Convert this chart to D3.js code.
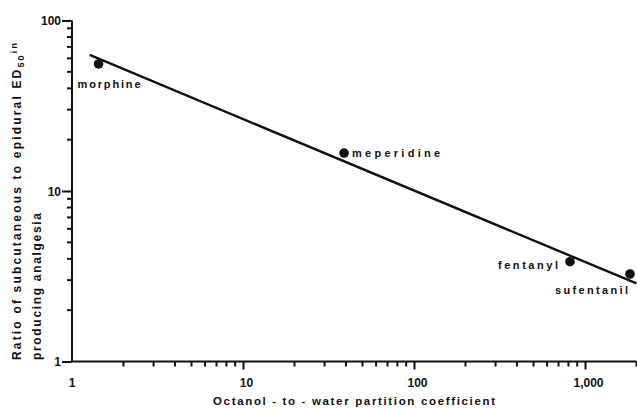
<!DOCTYPE html>
<html>
<head>
<meta charset="utf-8">
<script src="https://cdn.jsdelivr.net/npm/d3@7"></script>
<style>
  body { margin: 0; background: #fff; }
  svg { display: block; }
  text { font-family: "Liberation Sans", Arial, sans-serif; font-weight: bold; fill: #111; }
</style>
</head>
<body>
<svg id="chart" width="637" height="408"></svg>
<script>
// ---- data ----
const drugs = ["morphine", "meperidine", "fentanyl", "sufentanil"];
const partition = [1.43, 39, 817, 1833];          // octanol-to-water partition coefficient
const ratio = [55.6, 16.7, 3.85, 3.26];            // subcutaneous / epidural ED50 ratio
const fitX = [1.27, 2000];                          // regression line ends
const fitY = [62.8, 2.87];
const xMajor = [10, 100, 1000];
const xMajorLabels = ["10", "100", "1,000"];
const xMinor = [2,3,4,5,6,7,8,9,20,30,40,50,60,70,80,90,200,300,400,500,600,700,800,900,2000];
const yMajor = [1, 10, 100];
const yMajorLabels = ["1", "10", "100"];
const yMinor = [2,3,4,5,6,7,8,9,20,30,40,50,60,70,80,90];

const svg = d3.select("#chart");
const x = d3.scaleLog().domain([1, 2000]).range([72, 72 + 171 * Math.log10(2000)]);
const y = d3.scaleLog().domain([1, 100]).range([361.5, 20.5]);

const axisColor = "#111";

// minor ticks
svg.append("g").selectAll("line").data(xMinor).join("line")
  .attr("x1", d => x(d)).attr("x2", d => x(d))
  .attr("y1", y(1)).attr("y2", y(1) + 5)
  .attr("stroke", axisColor).attr("stroke-width", 2);
svg.append("g").selectAll("line").data(yMinor).join("line")
  .attr("y1", d => y(d)).attr("y2", d => y(d))
  .attr("x1", x(1)).attr("x2", x(1) - 5)
  .attr("stroke", axisColor).attr("stroke-width", 2);

// major axes
const gxMajor = svg.append("g").attr("transform", `translate(0,${y(1)})`)
  .call(d3.axisBottom(x).tickValues(xMajor).tickSize(8).tickFormat((d, i) => xMajorLabels[i]));
const gyMajor = svg.append("g").attr("transform", `translate(${x(1)},0)`)
  .call(d3.axisLeft(y).tickValues(yMajor).tickSize(10).tickFormat((d, i) => yMajorLabels[i]));

[gxMajor, gyMajor].forEach(g => {
  g.selectAll("path.domain").attr("stroke", axisColor).attr("stroke-width", 2);
  g.selectAll(".tick line").attr("stroke", axisColor).attr("stroke-width", 2);
  g.selectAll(".tick text").style("font-family", "'Liberation Sans', Arial, sans-serif")
    .style("font-weight", "bold").style("font-size", "12px").attr("fill", "#111");
});
gxMajor.select("path.domain").attr("d", `M${x(1)},0H${x(2000)}`);
gyMajor.select("path.domain").attr("d", `M0,${y(1)}V${y(100)}`);
gxMajor.selectAll(".tick text").attr("dy", null).attr("y", 0).attr("transform", "translate(3,25)");
gyMajor.selectAll(".tick text").attr("x", -11).attr("dy", "0.35em");

// x label "1" at origin
svg.append("text").attr("x", x(1)).attr("y", 387).attr("text-anchor", "middle")
  .style("font-size", "12px").text("1");

// regression line
const line = d3.line().x(d => x(d[0])).y(d => y(d[1]));
svg.append("path").datum(fitX.map((v, i) => [v, fitY[i]]))
  .attr("d", line).attr("fill", "none").attr("stroke", "#111").attr("stroke-width", 2.4);

// points
svg.selectAll("circle.pt").data(drugs).join("circle")
  .attr("class", "pt")
  .attr("cx", (d, i) => x(partition[i]))
  .attr("cy", (d, i) => y(ratio[i]))
  .attr("r", 4.8).attr("fill", "#111");

// point labels (positions relative to points)
const labelOff = [[-21, 24, 63], [8, 4, 88], [-72, 7, 60], [-75, 20, 73]];
svg.selectAll("text.lbl").data(drugs).join("text")
  .attr("class", "lbl")
  .attr("x", (d, i) => x(partition[i]) + labelOff[i][0])
  .attr("y", (d, i) => y(ratio[i]) + labelOff[i][1])
  .attr("textLength", (d, i) => labelOff[i][2])
  .attr("lengthAdjust", "spacing")
  .style("font-size", "11px")
  .text(d => d);

// x axis title
svg.append("text").attr("x", 213).attr("y", 405)
  .attr("textLength", 282).attr("lengthAdjust", "spacing")
  .style("font-size", "11.5px")
  .text("Octanol - to - water partition coefficient");

// y axis title (two lines)
const yt1 = svg.append("text").attr("transform", "translate(21,360) rotate(-90)")
  .attr("textLength", 317).attr("lengthAdjust", "spacing")
  .style("font-size", "12px");
yt1.append("tspan").text("Ratio of subcutaneous to epidural ED");
yt1.append("tspan").attr("dy", 3).style("font-size", "9px").text("50");
yt1.append("tspan").attr("dy", -7).style("font-size", "9px").text("in");

svg.append("text").attr("transform", "translate(41,360) rotate(-90)")
  .attr("textLength", 147).attr("lengthAdjust", "spacing")
  .style("font-size", "12px")
  .text("producing analgesia");
</script>
</body>
</html>
